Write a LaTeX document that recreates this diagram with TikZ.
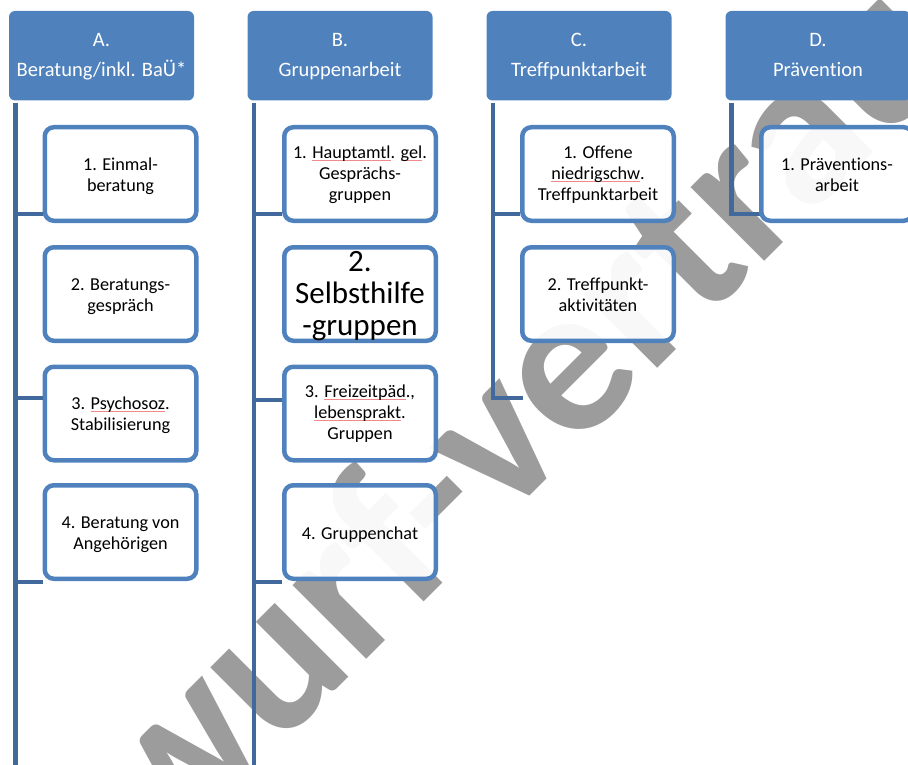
\documentclass[tikz,border=0pt]{standalone}
\usepackage{fontspec}
\setmainfont{Carlito}[Ligatures=NoCommon]
\definecolor{hdr}{HTML}{4F81BD}
\definecolor{vline}{HTML}{41699C}
\definecolor{wmark}{HTML}{9C9C9C}
\definecolor{spellred}{HTML}{F08A8A}
\newsavebox\spkbox
\newcommand\spk[1]{\sbox\spkbox{#1}\leavevmode\rlap{\textcolor{spellred}{\rule[-2.2pt]{\wd\spkbox}{0.8pt}}}\usebox\spkbox}
\begin{document}
\begin{tikzpicture}[x=1pt,y=-1pt,
  head/.style={rectangle, rounded corners=6pt, fill=hdr, draw=none, text=white,
    minimum width=185pt, minimum height=89.5pt, align=center,
    font=\fontsize{20.5}{30}\selectfont, inner sep=0pt},
  sub/.style={rectangle, rounded corners=9pt, draw=hdr, line width=4.5pt,
    fill=white, fill opacity=0.93, text opacity=1, text=black,
    minimum width=151.5pt, minimum height=93.5pt, align=center,
    font=\fontsize{18.2}{21}\selectfont, inner sep=0pt},
  subtext/.style={align=center, inner sep=0pt, text=black,
    font=\fontsize{18.2}{21}\selectfont},
  conn/.style={draw=vline, line width=4.5pt},
  wm/.style={rotate=45, anchor=base west, inner sep=0pt, text=wmark,
    font=\fontsize{215}{215}\selectfont\bfseries}]
\useasboundingbox (0,0) rectangle (908,765);
\clip (0,0) rectangle (908,765);

% watermark
\node[wm] (wmk) at (-44,1070) {Entwurf-vertraulich};

% headers
\node[head] (A) at (101.5,55.75) {\strut A.\\\strut Beratung/inkl. BaÜ*};
\node[head] (B) at (340,55.75) {\strut B.\\\strut Gruppenarbeit};
\node[head] (C) at (579,55.75) {\strut C.\\\strut Treffpunktarbeit};
\node[head] (D) at (818,55.75) {\strut D.\\\strut Prävention};

% line coordinates
\coordinate (Av) at (15.5,103);  \coordinate (Ae) at (15.5,770);
\coordinate (Bv) at (254,103);   \coordinate (Be) at (254,770);
\coordinate (Cv) at (493,103);
\coordinate (Dv) at (731.5,103);
\coordinate (A1j) at (15.5,214); \coordinate (A3j) at (15.5,398); \coordinate (A4j) at (15.5,582);
\coordinate (B1j) at (254,214);  \coordinate (B3j) at (254,400);  \coordinate (B4j) at (254,582);
\coordinate (C1j) at (493,214);  \coordinate (C2j) at (493,398);
\coordinate (D1j) at (731.5,214);
\coordinate (Cend) at (523,398);

% connectors
\draw[conn] (Av) -- (Ae);
\draw[conn] (Bv) -- (Be);
\draw[conn] (Cv) -- (C2j) -- (Cend);
\draw[conn] (Dv) -- (D1j) -- ++(28,0);

% children
\node[sub] (A1) at (120.5,174) {};
\node[sub] (A2) at (120.5,294) {};
\node[sub] (A3) at (120.5,413.5) {};
\node[sub] (A4) at (120.5,532) {};
\node[sub] (B1) at (360,174) {};
\node[sub] (B2) at (360,294) {};
\node[sub] (B3) at (360,413.5) {};
\node[sub] (B4) at (360,532) {};
\node[sub] (C1) at (598,174) {};
\node[sub] (C2) at (598,294) {};
\node[sub] (D1) at (837,174) {};

\node[subtext] (A1t) at (120.5,177) {\strut 1. Einmal-\\\strut beratung};
\node[subtext] (A2t) at (120.5,297) {\strut 2. Beratungs-\\\strut gespräch};
\node[subtext] (A3t) at (120.5,416) {\strut 3. \spk{Psychosoz}.\\\strut Stabilisierung};
\node[subtext] (A4t) at (120.5,535) {\strut 4. Beratung von\\\strut Angehörigen};
\node[subtext] (B1t) at (360,175) {\strut 1. \spk{Hauptamtl}. \spk{gel}.\\\strut Gesprächs-\\\strut gruppen};
\node[subtext] (B3t) at (360,414.5) {\strut 3. \spk{Freizeitpäd}.,\\\strut \spk{lebensprakt}.\\\strut Gruppen};
\node[subtext] (B4t) at (360,535) {\strut 4. Gruppenchat};
\node[subtext] (C1t) at (598,175) {\strut 1. Offene\\\strut \spk{niedrigschw}.\\\strut Treffpunktarbeit};
\node[subtext] (C2t) at (598,297) {\strut 2. Treffpunkt-\\\strut aktivitäten};
\node[subtext] (D1t) at (837,177) {\strut 1. Präventions-\\\strut arbeit};
\node[align=center, inner sep=0pt, font=\fontsize{31}{32}\selectfont] (B2t) at (360,296) {2.\\Selbsthilfe\\-gruppen};

\draw[conn] (A1j) -- (A1j -| A1.west);
\draw[conn] (A3j) -- (A3j -| A3.west);
\draw[conn] (A4j) -- (A4j -| A4.west);
\draw[conn] (B1j) -- (B1j -| B1.west);
\draw[conn] (B3j) -- (B3j -| B3.west);
\draw[conn] (B4j) -- (B4j -| B4.west);
\draw[conn] (C1j) -- (C1j -| C1.west);
\end{tikzpicture}
\end{document}
